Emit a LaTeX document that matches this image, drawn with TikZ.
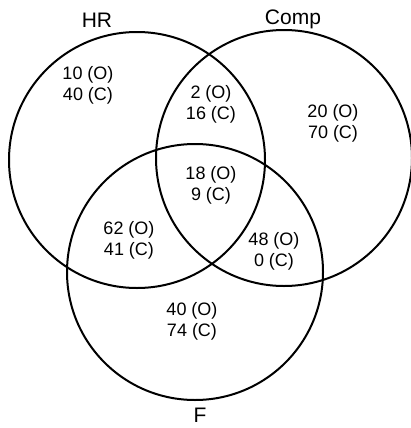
\documentclass[tikz,border=0pt]{standalone}
\usepackage{fontspec}
\setmainfont{Liberation Sans}
\usetikzlibrary{positioning}

\begin{document}
\begin{tikzpicture}[x=0.5pt,y=-0.5pt,
  every node/.style={align=center},
  setcircle/.style={draw=black,line width=1pt,circle,minimum size=128pt,inner sep=0pt,outer sep=0pt},
  count/.style={font=\fontsize{9}{10.5}\selectfont},
  setname/.style={font=\fontsize{10.5}{12}\selectfont,anchor=base}]
\useasboundingbox (0,0) rectangle (411,428);
% the three sets
\node[setcircle] (hr) at (137,160) {};
\node[setcircle] (comp) at (284,158) {};
\node[setcircle] (f) at (195,272) {};
% set names
\node[setname] (hrname) at (97,27) {HR};
\node[setname] (compname) at (293,25) {Comp};
\node[setname] (fname) at (200,422) {F};
% region counts
\node[count] (onlyhr) at (88,85) {10 (O)\\40 (C)};
\node[count] (hrcomp) at (211,104) {2 (O)\\16 (C)};
\node[count] (onlycomp) at (333,123) {20 (O)\\70 (C)};
\node[count] (all) at (211,185) {18 (O)\\9 (C)};
\node[count] (hrf) at (129,240) {62 (O)\\41 (C)};
\node[count] (compf) at (274,251) {48 (O)\\0 (C)};
\node[count] (onlyf) at (192,321) {40 (O)\\74 (C)};
\end{tikzpicture}
\end{document}
